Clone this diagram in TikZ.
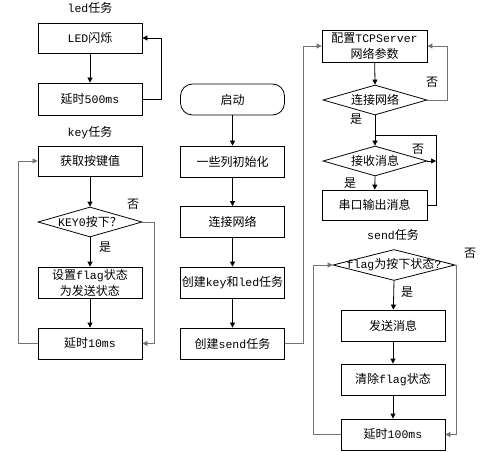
\documentclass[tikz,border=0pt]{standalone}
\usepackage{fontspec}
\setmainfont{Liberation Mono}[Scale=0.96]
\newfontfamily\cjk{Noto Sans CJK SC}
\usetikzlibrary{shapes.geometric,arrows.meta}
\newcommand{\zh}[1]{{\cjk #1}}
\begin{document}
\begin{tikzpicture}[x=1pt,y=-1pt,
  font=\fontsize{12}{16}\selectfont,
  box/.style={draw, line width=0.8pt, minimum width=104pt, minimum height=31pt, inner sep=0pt, align=center},
  rbox/.style={box, rounded corners=12pt},
  dia/.style={draw, line width=0.8pt, diamond, inner sep=0pt, minimum width=104pt, minimum height=30pt},
  txt/.style={inner sep=0pt, align=center},
  arr/.style={line width=0.8pt, -{Triangle[length=5pt,width=5pt]}},
  garr/.style={line width=0.8pt, draw=black!55, -{Triangle[length=5pt,width=5pt]}, color=black!55},
  lbl/.style={inner sep=0pt}]
\useasboundingbox (0,0) rectangle (480,452);

% ---------- left column ----------
\node[lbl] (ledlbl) at (90,8) {led\zh{任务}};
\node[box, minimum height=30pt] (led) at (90,38) {LED\zh{闪烁}};
\node[box, minimum height=32pt] (d500) at (90,99) {\zh{延时}500ms};
\node[lbl] (keylbl) at (90,133) {key\zh{任务}};
\node[box, minimum height=30pt] (getkey) at (90,161) {\zh{获取按键值}};
\node[dia] (kd) at (90,222) {};
\node[txt] (kdt) at (90,222) {KEY0\zh{按下？}};
\node[box] (setf) at (90,282.5) {\zh{设置}flag\zh{状态}\\\zh{为发送状态}};
\node[box] (d10) at (90,343.5) {\zh{延时}10ms};
\node[lbl] (kno) at (133,204) {\zh{否}};
\node[lbl] (kyes) at (105,247) {\zh{是}};

\draw[arr] (led) -- (d500);
\coordinate (c1) at (161,99);
\coordinate (c2) at (161,38);
\draw[arr] (d500.east) -- (c1) -- (c2) -- (led.east);
\draw[arr] (getkey) -- (kd.north);
\draw[arr] (kd.south) -- (setf);
\draw[arr] (setf) -- (d10);
\coordinate (c3) at (154,222);
\coordinate (c4) at (154,343.5);
\draw[garr] (kd.east) -- (c3) -- (c4) -- (d10.east);
\coordinate (c5) at (18,343.5);
\coordinate (c6) at (18,161);
\draw[garr] (d10.west) -- (c5) -- (c6) -- (getkey.west);

% ---------- middle column ----------
\node[rbox] (start) at (232.5,99.5) {\zh{启动}};
\node[box] (init) at (232.5,161.5) {\zh{一些列初始化}};
\node[box] (conn) at (232.5,222) {\zh{连接网络}};
\node[box] (ckl) at (232.5,282.5) {\zh{创建}key\zh{和}led\zh{任务}};
\node[box] (cs) at (232.5,343.5) {\zh{创建}send\zh{任务}};
\draw[arr] (start) -- (init);
\draw[arr] (init) -- (conn);
\draw[arr] (conn) -- (ckl);
\draw[arr] (ckl) -- (cs);

% ---------- right column, top ----------
\node[box, minimum width=105pt, minimum height=32pt] (cfg) at (374.5,46) {\zh{配置}TCPServer\\\zh{网络参数}};
\node[dia] (cd) at (375,100) {};
\node[txt] (cdt) at (375,100) {\zh{连接网络}};
\node[dia] (rd) at (375,161) {};
\node[txt] (rdt) at (375,161) {\zh{接收消息}};
\node[box, minimum width=105pt, minimum height=30pt] (uart) at (374.5,205) {\zh{串口输出消息}};
\node[lbl] (cno) at (432,82) {\zh{否}};
\node[lbl] (cyes) at (356,119) {\zh{是}};
\node[lbl] (rno) at (418,149) {\zh{否}};
\node[lbl] (ryes) at (350,183) {\zh{是}};

\coordinate (m1) at (303,343.5);
\coordinate (m2) at (303,46);
\draw[garr] (cs.east) -- (m1) -- (m2) -- (cfg.west);
\draw[arr] (cfg) -- (cd.north);
\coordinate (r1) at (447,100);
\coordinate (r2) at (447,46);
\draw[garr] (cd.east) -- (r1) -- (r2) -- (cfg.east);
\draw[arr] (cd.south) -- (rd.north);
\coordinate (r3) at (436,161);
\draw[arr] (rd.east) -- (r3);
\draw[arr] (rd.south) -- (uart);
\coordinate (r4) at (436,205);
\coordinate (r5) at (436,135);
\coordinate (r6) at (375,135);
\draw[line width=0.8pt] (uart.east) -- (r4) -- (r5) -- (r6);

% ---------- right column, bottom ----------
\node[lbl] (sendlbl) at (393,235) {send\zh{任务}};
\node[dia, minimum width=122pt, minimum height=31pt] (fd) at (394,265) {};
\node[txt] (fdt) at (394,265) {flag\zh{为按下状态}?};
\node[box] (send) at (393,325.5) {\zh{发送消息}};
\node[box] (clr) at (393,379.5) {\zh{清除}flag\zh{状态}};
\node[box] (d100) at (393,434.5) {\zh{延时}100ms};
\node[lbl] (fno) at (470,253) {\zh{否}};
\node[lbl] (fyes) at (407,292) {\zh{是}};

\draw[arr] (fd.south) -- (send);
\draw[arr] (send) -- (clr);
\draw[arr] (clr) -- (d100);
\coordinate (s1) at (456,265);
\coordinate (s2) at (456,434.5);
\draw[garr] (fd.east) -- (s1) -- (s2) -- (d100.east);
\coordinate (s3) at (313,434.5);
\coordinate (s4) at (313,265);
\draw[garr] (d100.west) -- (s3) -- (s4) -- (fd.west);
\end{tikzpicture}
\end{document}
